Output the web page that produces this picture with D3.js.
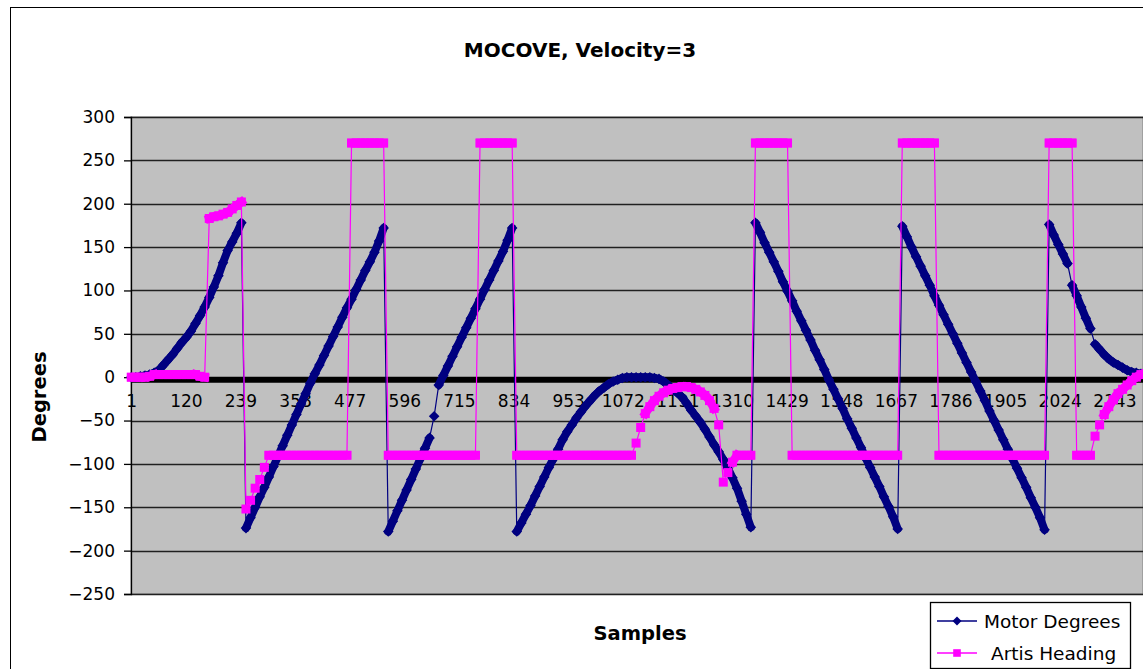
<!DOCTYPE html>
<html><head><meta charset="utf-8">
<script src="https://cdn.jsdelivr.net/npm/d3@7/dist/d3.min.js"></script>
<style>
html,body{margin:0;padding:0;background:#fff;overflow:hidden}
text{font-family:"DejaVu Sans",Verdana,sans-serif}
</style>
</head><body>
<svg id="chart" width="1143" height="669"></svg>
<script>
// ---------------- data ----------------
const chartTitle = "MOCOVE, Velocity=3";
const xTitle = "Samples";
const yTitle = "Degrees";
const seriesNames = ["Motor Degrees", "Artis Heading"];
const categoryCount = 2205;          // samples on the category axis
const sampleStep = 10;              // values below are read every 10th sample (1, 11, 21, ...)
const xTickLabels = [1,120,239,358,477,596,715,834,953,1072,1191,1310,1429,1548,1667,1786,1905,2024,2143];
const yTicks = [-250,-200,-150,-100,-50,0,50,100,150,200,250,300];

const motorDegrees = [
  0,0,1,2,3,5,8,14,20,26,33,40,46,53,62,71,81,92,104,117,132,146,156,166,178,
  -174,-162,-150,-138,-127,-115,-103,-91,-79,-67,-55,-43,-31,-19,-7,4,14,25,36,47,58,69,80,90,101,112,123,133,144,157,172,
  -178,-166,-154,-142,-130,-118,-106,-94,-82,-70,-45,-9,2,13,24,35,46,57,68,79,90,101,112,123,134,145,158,172,
  -178,-168,-158,-148,-137,-126,-115,-104,-94,-83,
  -72,-63,-55,-47,-40,-33,-27,-21,-16,-12,
  -8,-5,-3,-1,0,0,0,0,0,0,
  -1,-2,-5,-9,-14,-18,-23,-30,-38,-45,
  -52,-60,-69,-78,-86,-95,-105,-116,-128,-143,
  -158,-173,
  178,167,155,144,133,122,110,99,88,76,65,54,43,31,20,9,-3,-14,-25,-36,-48,-59,-70,-81,-93,-104,-115,-126,-138,-149,-161,-175,
  174,162,150,139,128,117,106,94,83,72,61,50,39,28,17,6,-5,-16,-27,-39,-50,-61,-72,-83,-94,-105,-116,-127,-139,-150,-162,-176,
  176,164,153,142,131,106,94,81,68,56,38,32,26,21,17,14,11,8,6,5,4
];

const artisHeading = [
  0,0,0,0,1,
  3,3,3,3,3,3,3,3,3,3,
  1,0,
  183,185,186,188,190,194,198,202,
  -152,-142,-128,-118,-104,
  -90,-90,-90,-90,-90,-90,-90,-90,-90,-90,-90,-90,-90,-90,-90,-90,-90,-90,
  270,270,270,270,270,270,270,270,
  -90,-90,-90,-90,-90,-90,-90,-90,-90,-90,-90,-90,-90,-90,-90,-90,-90,-90,-90,-90,
  270,270,270,270,270,270,270,270,
  -90,-90,-90,-90,-90,-90,-90,-90,-90,-90,-90,-90,-90,-90,-90,-90,-90,-90,-90,-90,-90,-90,-90,-90,-90,-90,
  -76,-58,-42,-34,-27,-22,-18,-15,-13,-12,-11,-11,-12,-14,-17,-21,-27,-36,-55,
  -121,-110,-98,
  -90,-90,-90,-90,
  270,270,270,270,270,270,270,270,
  -90,-90,-90,-90,-90,-90,-90,-90,-90,-90,-90,-90,-90,-90,-90,-90,-90,-90,-90,-90,-90,-90,-90,-90,
  270,270,270,270,270,270,270,270,
  -90,-90,-90,-90,-90,-90,-90,-90,-90,-90,-90,-90,-90,-90,-90,-90,-90,-90,-90,-90,-90,-90,-90,-90,
  270,270,270,270,270,270,
  -90,-90,-90,-90,
  -68,-55,-43,-34,-26,-19,-14,-9,-4,0,3
];

// ---------------- layout ----------------
const navy = "#000080", magenta = "#FF00FF";
const plot = {left: 131, right: 1143, top: 117, bottom: 594};
const svg = d3.select("#chart");

const x = d3.scaleLinear().domain([0.5, categoryCount + 0.5]).range([plot.left, plot.right]);
const y = d3.scaleLinear().domain([-250, 300]).range([plot.bottom, plot.top]);

const toPoints = arr => arr.map((v, i) => ({s: 1 + i * sampleStep, v}));
const motorPts = toPoints(motorDegrees);
const artisPts = toPoints(artisHeading);

// background + chart border
svg.append("rect").attr("width", 1143).attr("height", 669).attr("fill", "#fff");
svg.append("rect").attr("x", 10.5).attr("y", 7.5).attr("width", 1200).attr("height", 700)
  .attr("fill", "none").attr("stroke", "#000").attr("stroke-width", 1);

// title
svg.append("text").attr("x", 580).attr("y", 57).attr("text-anchor", "middle")
  .attr("font-size", 20).attr("font-weight", "bold").text(chartTitle);

// plot area
svg.append("rect").attr("x", plot.left).attr("y", plot.top)
  .attr("width", plot.right - plot.left).attr("height", plot.bottom - plot.top)
  .attr("fill", "#C0C0C0").attr("stroke", "#808080");

// gridlines
svg.append("g").selectAll("line").data(yTicks.filter(t => t !== 0)).join("line")
  .attr("x1", plot.left).attr("x2", plot.right)
  .attr("y1", d => Math.round(y(d)) + 0.5).attr("y2", d => Math.round(y(d)) + 0.5)
  .attr("stroke", "#202020").attr("stroke-width", 1.3);

// y axis
const yAxis = d3.axisLeft(y).tickValues(yTicks).tickSize(7).tickPadding(9).tickFormat(d3.format("d"));
const gy = svg.append("g").attr("transform", `translate(${plot.left},0)`).call(yAxis);
gy.select(".domain").attr("stroke", "#000").attr("stroke-width", 1.3);
gy.selectAll(".tick line").attr("stroke", "#000").attr("stroke-width", 1.3);
gy.selectAll("text").attr("font-size", 17).attr("fill", "#000")
  .attr("font-family", "DejaVu Sans, sans-serif");

// x category axis (crosses at 0)
const zeroY = y(0);
svg.append("line").attr("x1", plot.left).attr("x2", plot.right)
  .attr("y1", zeroY + 2.5).attr("y2", zeroY + 2.5)
  .attr("stroke", "#000").attr("stroke-width", 6);
const xAxis = d3.axisBottom(x).tickValues(xTickLabels).tickSize(0).tickPadding(0).tickFormat(d3.format("d"));
const gx = svg.append("g").attr("transform", `translate(0,${zeroY})`).call(xAxis);
gx.select(".domain").remove();
gx.selectAll("text").attr("font-size", 17).attr("fill", "#000").attr("dy", "1.75em")
  .attr("font-family", "DejaVu Sans, sans-serif");

// ---------------- series ----------------
const drawSeries = (pts, color, thick, jumpLimit, cap, marker) => {
  const g = svg.append("g");
  g.append("path").datum(pts)
    .attr("d", d3.line().x(d => x(d.s)).y(d => y(d.v)))
    .attr("fill", "none").attr("stroke", color).attr("stroke-width", 1.2);
  g.selectAll("line.band").data(d3.pairs(pts).filter(([a, b]) => Math.abs(b.v - a.v) <= jumpLimit))
    .join("line").attr("class", "band")
    .attr("x1", d => x(d[0].s)).attr("y1", d => y(d[0].v))
    .attr("x2", d => x(d[1].s)).attr("y2", d => y(d[1].v))
    .attr("stroke", color).attr("stroke-width", thick).attr("stroke-linecap", cap);
  g.selectAll("path.m").data(pts).join("path").attr("class", "m")
    .attr("transform", d => `translate(${x(d.s)},${y(d.v)})`)
    .attr("d", marker).attr("fill", color);
};
const diamond = "M0,-5.3L5.3,0L0,5.3L-5.3,0Z";
const square = "M-4.5,-4.5H4.5V4.5H-4.5Z";
drawSeries(motorPts, navy, 8, 16, "round", diamond);
drawSeries(artisPts, magenta, 8.5, 9, "square", square);

// axis titles
svg.append("text").attr("x", 640).attr("y", 640).attr("text-anchor", "middle")
  .attr("font-size", 19.5).attr("font-weight", "bold").text(xTitle);
svg.append("text").attr("transform", "translate(46,397) rotate(-90)").attr("text-anchor", "middle")
  .attr("font-size", 19.5).attr("font-weight", "bold").text(yTitle);

// legend
const lg = svg.append("g");
lg.append("rect").attr("x", 930.5).attr("y", 602.5).attr("width", 200).attr("height", 66)
  .attr("fill", "#fff").attr("stroke", "#000").attr("stroke-width", 1.3);
const legendItems = [
  {name: seriesNames[0], color: navy, marker: "M0,-4.5L4.5,0L0,4.5L-4.5,0Z", y: 621, tx: 984},
  {name: seriesNames[1], color: magenta, marker: "M-3.8,-3.8H3.8V3.8H-3.8Z", y: 653, tx: 991}
];
legendItems.forEach(it => {
  lg.append("line").attr("x1", 937).attr("x2", 977).attr("y1", it.y).attr("y2", it.y)
    .attr("stroke", it.color).attr("stroke-width", 1.3);
  lg.append("path").attr("transform", `translate(957,${it.y})`).attr("d", it.marker).attr("fill", it.color);
  lg.append("text").attr("x", it.tx).attr("y", it.y + 6.5).attr("font-size", 18.5).text(it.name);
});
</script>
</body></html>
